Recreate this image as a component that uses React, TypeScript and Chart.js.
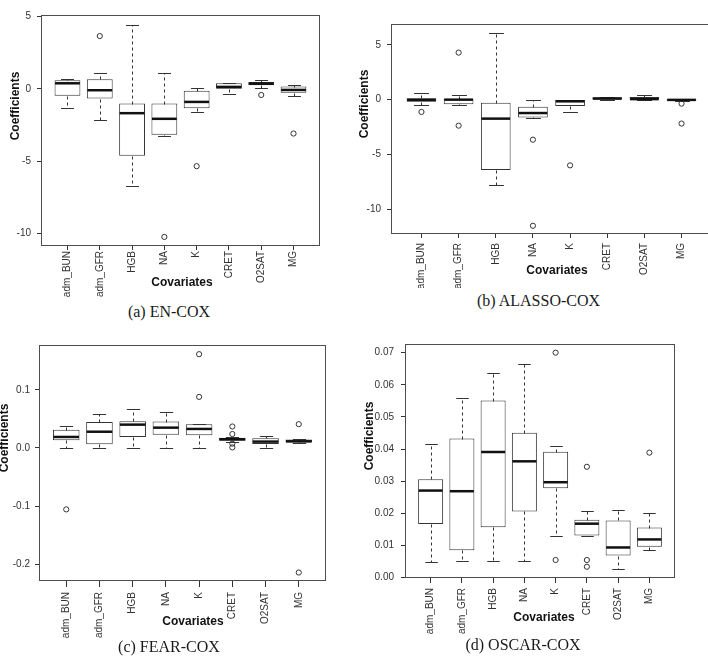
import React, { useEffect, useRef } from 'react';
import { Chart, registerables } from 'chart.js';

Chart.register(...registerables);

const covariates = ['adm_BUN', 'adm_GFR', 'HGB', 'NA', 'K', 'CRET', 'O2SAT', 'MG'];

// (a) EN-COX
const enLow = [-1.29, -2.14, -6.73, -3.23, -1.57, -0.36, 0.05, -0.48];
const enQ1 = [-0.48, -0.67, -4.63, -3.18, -1.34, 0.02, 0.26, -0.26];
const enMedian = [0.39, -0.09, -1.68, -2.07, -0.9, 0.14, 0.36, -0.07];
const enQ3 = [0.6, 0.67, -1.01, -1.01, -0.12, 0.39, 0.48, 0.16];
const enHigh = [0.71, 1.11, 4.42, 1.08, 0.05, 0.44, 0.62, 0.3];
const enOutliers: [string, number][] = [['adm_GFR', 3.66], ['NA', -10.25], ['K', -5.35], ['O2SAT', -0.42], ['MG', -3.09]];
const enTicks = [-10, -5, 0, 5];
const enRange = [-10.88, 5.12];

// (b) ALASSO-COX
const alLow = [-0.45, -0.48, -7.78, -1.68, -1.1, 0.0, 0.0, -0.12];
const alQ1 = [-0.18, -0.42, -6.41, -1.62, -0.58, 0.02, 0.0, -0.09];
const alMedian = [-0.02, 0.0, -1.73, -1.22, -0.15, 0.1, 0.05, -0.02];
const alQ3 = [0.13, 0.06, -0.27, -0.64, -0.03, 0.22, 0.25, 0.04];
const alHigh = [0.57, 0.46, 6.12, 0.0, 0.0, 0.27, 0.46, 0.06];
const alOutliers: [string, number][] = [['adm_BUN', -1.12], ['adm_GFR', 4.29], ['adm_GFR', -2.37], ['NA', -3.65], ['NA', -11.5], ['K', -5.99], ['MG', -0.36], ['MG', -2.18]];
const alTicks = [-10, -5, 0, 5];
const alRange = [-12.25, 6.9];

// (c) FEAR-COX
const frLow = [0, 0, 0, 0, 0, 0.011, 0, 0.0085];
const frQ1 = [0.0132, 0.0063, 0.019, 0.023, 0.0218, 0.0125, 0.0069, 0.0095];
const frMedian = [0.019, 0.028, 0.0402, 0.035, 0.0328, 0.015, 0.011, 0.0115];
const frQ3 = [0.0316, 0.0448, 0.046, 0.0454, 0.0408, 0.0175, 0.0167, 0.0145];
const frHigh = [0.0385, 0.058, 0.0672, 0.0626, 0.042, 0.019, 0.0212, 0.016];
const frOutliers: [string, number][] = [['adm_BUN', -0.1057], ['K', 0.1615], ['K', 0.088], ['CRET', 0.037], ['CRET', 0.024], ['CRET', 0.0075], ['CRET', 0.001], ['MG', 0.041], ['MG', -0.2144]];
const frTicks = [-0.2, -0.1, 0, 0.1];
const frRange = [-0.229, 0.1773];

// (d) OSCAR-COX
const osLow = [0.0048, 0.0053, 0.0051, 0.0051, 0.0131, 0.0131, 0.0026, 0.0085];
const osQ1 = [0.0167, 0.0085, 0.0157, 0.0206, 0.0278, 0.0131, 0.0069, 0.0096];
const osMedian = [0.0271, 0.0269, 0.0391, 0.0362, 0.0297, 0.0168, 0.0094, 0.0119];
const osQ3 = [0.0306, 0.0433, 0.0551, 0.0451, 0.0392, 0.018, 0.0178, 0.0156];
const osHigh = [0.0416, 0.0559, 0.0636, 0.0666, 0.0411, 0.0206, 0.021, 0.0202];
const osOutliers: [string, number][] = [['K', 0.07], ['K', 0.0055], ['CRET', 0.0345], ['CRET', 0.0055], ['CRET', 0.0034], ['MG', 0.0389]];
const osTicks = [0, 0.01, 0.02, 0.03, 0.04, 0.05, 0.06, 0.07];
const osRange = [-0.0001, 0.0727];

const SANS = '"Liberation Sans", Arial, Helvetica, sans-serif';
const SERIF = '"Liberation Serif", "Times New Roman", serif';
const INK = '#333333';

type Stats = {
  low: number[];
  q1: number[];
  median: number[];
  q3: number[];
  high: number[];
  outliers: [string, number][];
  ticks: number[];
  range: number[];
  decimals: number;
};

type Layout = {
  left: number;
  top: number;
  width: number;
  height: number;
  padTop: number;
  padRight: number;
  yAxisWidth: number;
  xAxisHeight: number;
  yTickPad: number;
  xTickLen: number;
  xTickPad: number;
  yTitle: [number, number];
  xTitle: [number, number];
  caption: string;
  captionAt: [number, number];
};

// Whiskers, staples and medians drawn on top of the IQR bars
function boxWhiskerPlugin(s: Stats) {
  return {
    id: 'boxWhiskers',
    afterDatasetsDraw(chart: any) {
      const { ctx } = chart;
      const yScale = chart.scales.y;
      const bars = chart.getDatasetMeta(0).data;
      const py = (v: number) => Math.round(yScale.getPixelForValue(v)) + 0.5;
      ctx.save();
      bars.forEach((bar: any, i: number) => {
        const xc = Math.round(bar.x) + 0.5;
        const half = bar.width / 2;
        const staple = bar.width / 4;
        // dashed whiskers
        ctx.strokeStyle = INK;
        ctx.lineWidth = 1;
        ctx.setLineDash([3, 3]);
        ctx.beginPath();
        ctx.moveTo(xc, py(s.q3[i]));
        ctx.lineTo(xc, py(s.high[i]));
        ctx.moveTo(xc, py(s.q1[i]));
        ctx.lineTo(xc, py(s.low[i]));
        ctx.stroke();
        ctx.setLineDash([]);
        // staples
        ctx.beginPath();
        ctx.moveTo(xc - staple, py(s.high[i]));
        ctx.lineTo(xc + staple, py(s.high[i]));
        ctx.moveTo(xc - staple, py(s.low[i]));
        ctx.lineTo(xc + staple, py(s.low[i]));
        ctx.stroke();
        // median
        ctx.strokeStyle = '#111111';
        ctx.lineWidth = 2.5;
        const my = yScale.getPixelForValue(s.median[i]);
        ctx.beginPath();
        ctx.moveTo(bar.x - half + 0.5, my);
        ctx.lineTo(bar.x + half - 0.5, my);
        ctx.stroke();
      });
      ctx.restore();
    },
  };
}

// Plot frame and the two axis titles
function frameAndTitlesPlugin(l: Layout) {
  return {
    id: 'frameAndTitles',
    afterDraw(chart: any) {
      const { ctx, chartArea } = chart;
      ctx.save();
      ctx.strokeStyle = '#4d4d4d';
      ctx.lineWidth = 1;
      const x0 = Math.round(chartArea.left) + 0.5;
      const y0 = Math.round(chartArea.top) + 0.5;
      const x1 = Math.round(chartArea.right) - 0.5;
      const y1 = Math.round(chartArea.bottom) - 0.5;
      ctx.strokeRect(x0, y0, x1 - x0, y1 - y0);

      ctx.fillStyle = '#111111';
      ctx.font = `bold 12px ${SANS}`;
      ctx.textAlign = 'center';
      ctx.textBaseline = 'middle';
      ctx.fillText('Covariates', l.xTitle[0], l.xTitle[1]);
      ctx.translate(l.yTitle[0], l.yTitle[1]);
      ctx.rotate(-Math.PI / 2);
      ctx.fillText('Coefficients', 0, 0);
      ctx.restore();
    },
  };
}

function BoxPanel({ stats, layout }: { stats: Stats; layout: Layout }) {
  const ref = useRef<HTMLCanvasElement>(null);

  useEffect(() => {
    const canvas = ref.current;
    if (!canvas) return;
    const tickFont = { family: SANS, size: 10 };
    const chart = new Chart(canvas, {
      type: 'bar',
      data: {
        datasets: [
          {
            type: 'bar',
            data: covariates.map((_, i) => ({ x: i + 1, y: [stats.q1[i], stats.q3[i]] })) as any,
            backgroundColor: '#ffffff',
            borderColor: INK,
            borderWidth: 1,
            borderSkipped: false,
            barPercentage: 0.8,
            categoryPercentage: 1,
          },
          {
            type: 'scatter',
            data: stats.outliers.map(([c, v]) => ({ x: covariates.indexOf(c) + 1, y: v })),
            pointStyle: 'circle',
            pointRadius: 2.6,
            borderWidth: 1,
            borderColor: INK,
            backgroundColor: 'rgba(0,0,0,0)',
          } as any,
        ],
      },
      options: {
        responsive: false,
        animation: false,
        devicePixelRatio: 1,
        events: [],
        layout: { padding: { top: layout.padTop, right: layout.padRight, bottom: 0, left: 0 } },
        plugins: { legend: { display: false }, tooltip: { enabled: false } },
        scales: {
          x: {
            type: 'linear',
            min: 0.18,
            max: 8.82,
            offset: false,
            afterBuildTicks: (s: any) => {
              s.ticks = covariates.map((_, i) => ({ value: i + 1 }));
            },
            afterFit: (s: any) => {
              s.height = layout.xAxisHeight;
            },
            ticks: {
              autoSkip: false,
              minRotation: 90,
              maxRotation: 90,
              padding: layout.xTickPad,
              color: INK,
              font: tickFont,
              callback: (v: any) => covariates[Math.round(Number(v)) - 1] ?? '',
            },
            grid: {
              display: true,
              offset: false,
              drawOnChartArea: false,
              drawTicks: true,
              tickLength: layout.xTickLen,
              color: INK,
              lineWidth: 1,
            },
            border: { display: false },
          },
          y: {
            type: 'linear',
            min: stats.range[0],
            max: stats.range[1],
            beginAtZero: false,
            afterBuildTicks: (s: any) => {
              s.ticks = stats.ticks.map((value) => ({ value }));
            },
            afterFit: (s: any) => {
              s.width = layout.yAxisWidth;
            },
            ticks: {
              padding: layout.yTickPad,
              color: INK,
              font: tickFont,
              callback: (v: any) => Number(v).toFixed(stats.decimals),
            },
            grid: {
              display: true,
              drawOnChartArea: false,
              drawTicks: true,
              tickLength: 4,
              color: INK,
              lineWidth: 1,
            },
            border: { display: false },
          },
        },
      } as any,
      plugins: [boxWhiskerPlugin(stats), frameAndTitlesPlugin(layout)],
    });
    return () => chart.destroy();
  }, [stats, layout]);

  return (
    <>
      <canvas
        ref={ref}
        width={layout.width}
        height={layout.height}
        style={{ position: 'absolute', left: layout.left, top: layout.top, width: layout.width, height: layout.height }}
      />
      <div
        style={{
          position: 'absolute',
          left: layout.captionAt[0] - 120,
          top: layout.captionAt[1] - 10,
          width: 240,
          textAlign: 'center',
          fontFamily: SERIF,
          fontSize: 16,
          lineHeight: '18px',
          color: '#1a1a1a',
          whiteSpace: 'nowrap',
        }}
      >
        {layout.caption}
      </div>
    </>
  );
}

const panels: { stats: Stats; layout: Layout }[] = [
  {
    stats: { low: enLow, q1: enQ1, median: enMedian, q3: enQ3, high: enHigh, outliers: enOutliers, ticks: enTicks, range: enRange, decimals: 0 },
    layout: {
      left: 0, top: 0, width: 354, height: 300, padTop: 15, padRight: 34, yAxisWidth: 41, xAxisHeight: 54,
      yTickPad: 6, xTickLen: 4, xTickPad: 1, yTitle: [16, 106], xTitle: [182, 283],
      caption: '(a) EN-COX', captionAt: [169, 313],
    },
  },
  {
    stats: { low: alLow, q1: alQ1, median: alMedian, q3: alQ3, high: alHigh, outliers: alOutliers, ticks: alTicks, range: alRange, decimals: 0 },
    layout: {
      left: 354, top: 0, width: 380, height: 288, padTop: 24, padRight: 22, yAxisWidth: 37, xAxisHeight: 54,
      yTickPad: 6, xTickLen: 4, xTickPad: 5, yTitle: [11, 104], xTitle: [203, 271],
      caption: '(b) ALASSO-COX', captionAt: [538.5, 302],
    },
  },
  {
    stats: { low: frLow, q1: frQ1, median: frMedian, q3: frQ3, high: frHigh, outliers: frOutliers, ticks: frTicks, range: frRange, decimals: 1 },
    layout: {
      left: 0, top: 330, width: 354, height: 315, padTop: 15, padRight: 28, yAxisWidth: 39, xAxisHeight: 64,
      yTickPad: 5, xTickLen: 6, xTickPad: 5, yTitle: [5, 108], xTitle: [193, 292],
      caption: '(c) FEAR-COX', captionAt: [169, 648],
    },
  },
  {
    stats: { low: osLow, q1: osQ1, median: osMedian, q3: osQ3, high: osHigh, outliers: osOutliers, ticks: osTicks, range: osRange, decimals: 2 },
    layout: {
      left: 354, top: 330, width: 354, height: 310, padTop: 14, padRight: 33, yAxisWidth: 51, xAxisHeight: 62,
      yTickPad: 7, xTickLen: 5, xTickPad: 5, yTitle: [16, 106], xTitle: [190, 288],
      caption: '(d) OSCAR-COX', captionAt: [523, 645.5],
    },
  },
];

export default function App() {
  return (
    <div
      style={{
        position: 'fixed',
        left: 0,
        top: 0,
        width: 708,
        height: 661,
        overflow: 'hidden',
        background: '#ffffff',
      }}
    >
      {panels.map((p) => (
        <BoxPanel key={p.layout.caption} stats={p.stats} layout={p.layout} />
      ))}
    </div>
  );
}
